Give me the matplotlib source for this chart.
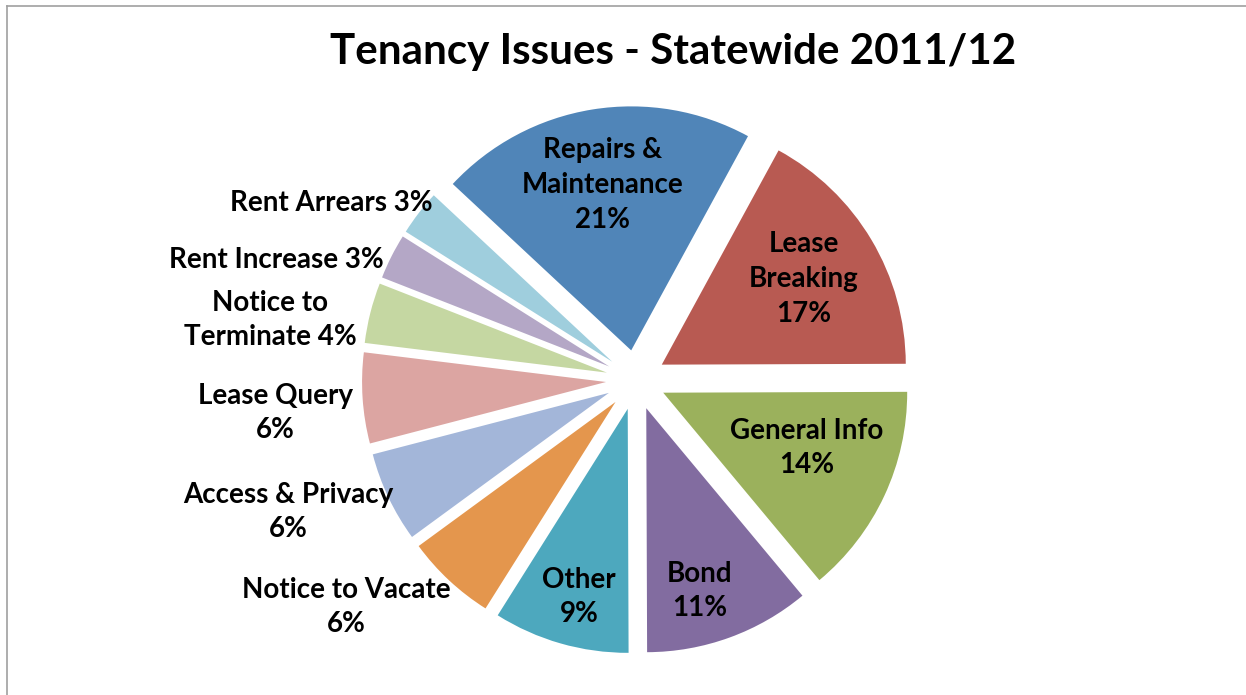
import math
import matplotlib
matplotlib.use('Agg')
import matplotlib.pyplot as plt

plt.rcParams['font.family'] = ['Lato', 'DejaVu Sans']

# data (clockwise from Repairs)
categories = ['Repairs &\nMaintenance', 'Lease\nBreaking', 'General Info', 'Bond', 'Other',
              'Notice to Vacate', 'Access & Privacy', 'Lease Query', 'Notice to\nTerminate',
              'Rent Increase', 'Rent Arrears']
shares = [21, 17, 14, 11, 9, 6, 6, 6, 4, 3, 3]
# label joins name and percent with a newline or a space
joiners = ['\n', '\n', '\n', '\n', '\n', '\n', '\n', '\n', ' ', ' ', ' ']

colors = ['#5085B8', '#B85A52', '#9BB15C', '#826CA0', '#4DA8BE', '#E4964D',
          '#A3B6D9', '#DCA5A2', '#C5D7A2', '#B4A7C6', '#9FCEDD']

# layout in pixels (y measured from the top of the picture)
W, H = 1246, 695
cx, cy = 636, 380
R = 244
gap = 30
label_xy = [(603, 185), (804, 279), (807, 448), (700, 591), (579, 597),
            (346, 607), (288, 512), (275, 413), (270, 320), (276, 260), (331, 203)]

fig = plt.figure(figsize=(W / 100, H / 100), dpi=100)
ax = fig.add_axes([0, 0, 1, 1])

ax.pie(shares, colors=colors, startangle=137, counterclock=False,
       center=(cx, H - cy), radius=R, explode=[gap] * len(shares),
       wedgeprops={'linewidth': 0})

ax.set_xlim(0, W)
ax.set_ylim(0, H)
ax.set_aspect('equal')
ax.axis('off')

for name, val, j, (lx, ly) in zip(categories, shares, joiners, label_xy):
    ax.text(lx, H - ly, name + j + str(val) + '%', ha='center', va='center',
            fontsize=20, fontweight='bold', linespacing=1.42, color='black')

ax.text(673, H - 52, 'Tenancy Issues - Statewide 2011/12', ha='center', va='center',
        fontsize=30.3, fontweight='bold', color='black')

# chart area border (only left and top are visible)
ax.plot([6.5, 6.5], [0, H - 5.5], color='#A0A0A0', lw=1.2)
ax.plot([6.5, W], [H - 5.5, H - 5.5], color='#A0A0A0', lw=1.2)

fig.savefig('out.png', dpi=100)
